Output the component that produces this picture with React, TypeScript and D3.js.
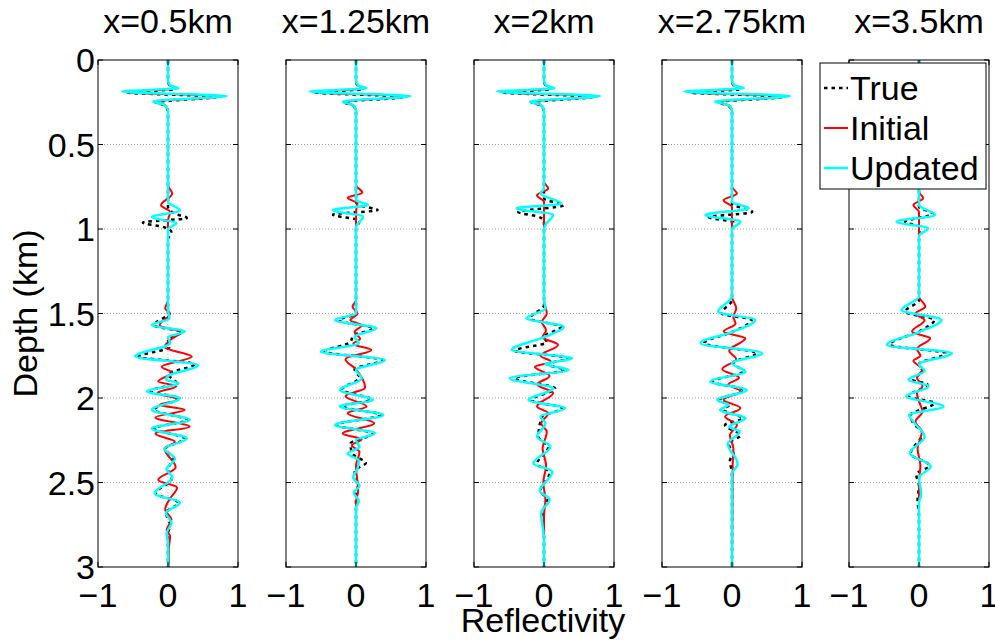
import React from 'react';
import * as d3 from 'd3';

type Pt = [number, number]; // [depth km, reflectivity]

const titles = ['x=0.5km', 'x=1.25km', 'x=2km', 'x=2.75km', 'x=3.5km'];
const depthTicks = [0, 0.5, 1, 1.5, 2, 2.5, 3];
const depthTickLabels = ['0', '0.5', '1', '1.5', '2', '2.5', '3'];
const gridDepths = [0.5, 1, 1.5, 2, 2.5];
const reflTicks = [-1, 0, 1];
const reflTickLabels = ['\u22121', '0', '1'];
const seriesNames = ['True', 'Initial', 'Updated'];
const seriesColors = ['#000000', '#ff0000', '#00ffff'];

// Panel 1 (x=0.5km)
const true1: Pt[] = [[0,0],[0.12,0],[0.155,0.03],[0.172,0.12],[0.192,-0.58],[0.218,0.7],[0.25,-0.18],[0.27,-0.04],[0.31,0],[0.87,0],[0.91,0.1],[0.935,0.27],[0.962,-0.36],[0.99,-0.05],[1.02,0.05],[1.06,0],[1.5,0],[1.57,-0.2],[1.61,0.2],[1.65,0],[1.7,0.02],[1.755,-0.42],[1.8,0.38],[1.86,0],[1.91,0.12],[1.96,-0.25],[2.0,0.15],[2.07,-0.2],[2.13,0.28],[2.18,-0.2],[2.24,0.24],[2.3,-0.04],[2.36,0.08],[2.42,0],[2.48,0.05],[2.565,-0.18],[2.62,0.15],[2.68,-0.03],[2.75,0.03],[2.82,-0.01],[2.86,0],[3,0]];
const init1: Pt[] = [[0,0],[0.12,0],[0.15,0.02],[0.168,0.13],[0.19,-0.6],[0.215,0.74],[0.247,-0.2],[0.267,-0.05],[0.3,0],[0.74,0],[0.79,0.06],[0.86,-0.1],[0.9,0.03],[0.95,0],[1.42,0],[1.47,-0.04],[1.5,0.03],[1.57,-0.12],[1.61,0.18],[1.66,0.02],[1.7,-0.05],[1.755,0.34],[1.815,-0.09],[1.85,0.05],[1.903,-0.14],[1.93,0.12],[1.97,-0.15],[2.01,0.15],[2.04,-0.12],[2.07,0.24],[2.115,-0.18],[2.17,0.31],[2.21,-0.18],[2.26,0.1],[2.3,-0.05],[2.41,0.11],[2.485,-0.14],[2.53,0.13],[2.6,0.02],[2.66,-0.04],[2.72,0.05],[2.78,-0.02],[2.82,0.03],[2.9,0.01],[3,0.01]];
const upd1: Pt[] = [[0,0],[0.12,0],[0.15,0.03],[0.167,0.15],[0.187,-0.66],[0.213,0.84],[0.245,-0.21],[0.265,-0.06],[0.3,0],[0.84,0],[0.89,0.17],[0.93,-0.23],[0.965,0.12],[1.0,0],[1.48,0],[1.53,0.02],[1.568,-0.23],[1.607,0.24],[1.64,0],[1.675,0.03],[1.755,-0.47],[1.805,0.43],[1.87,0],[1.89,-0.03],[1.913,0.15],[1.962,-0.3],[2.0,0.17],[2.07,-0.23],[2.13,0.31],[2.18,-0.23],[2.24,0.27],[2.3,-0.05],[2.36,0.1],[2.42,-0.02],[2.47,0.06],[2.565,-0.19],[2.62,0.17],[2.68,-0.03],[2.74,0.05],[2.8,-0.02],[2.86,0],[3,0]];

// Panel 2 (x=1.25km)
const true2: Pt[] = [[0,0],[0.12,0],[0.155,0.03],[0.172,0.12],[0.192,-0.58],[0.218,0.68],[0.25,-0.17],[0.27,-0.04],[0.31,0],[0.84,0],[0.86,0.05],[0.888,0.31],[0.915,-0.33],[0.95,0.05],[1.0,0],[1.5,0],[1.54,-0.25],[1.588,0.25],[1.63,-0.04],[1.67,-0.08],[1.726,-0.45],[1.775,0.38],[1.83,-0.02],[1.88,0.05],[1.95,-0.2],[2.01,0.22],[2.05,-0.2],[2.1,0.35],[2.16,-0.28],[2.21,0.24],[2.27,-0.08],[2.33,-0.05],[2.385,0.14],[2.43,-0.02],[2.47,0],[2.52,0.03],[2.56,0],[3,0]];
const init2: Pt[] = [[0,0],[0.12,0],[0.15,0.02],[0.168,0.13],[0.19,-0.6],[0.215,0.7],[0.248,-0.18],[0.268,-0.04],[0.3,0],[0.74,0],[0.785,0.09],[0.815,-0.12],[0.85,0.02],[0.9,0],[1.42,0],[1.46,-0.05],[1.5,0.02],[1.54,-0.08],[1.57,0.08],[1.61,-0.02],[1.65,0.06],[1.68,-0.04],[1.716,0.22],[1.77,-0.15],[1.83,0],[1.94,0.13],[1.99,-0.15],[2.05,0.15],[2.09,-0.12],[2.15,0.26],[2.21,-0.19],[2.245,0.08],[2.28,-0.06],[2.32,0.05],[2.4,0],[2.55,0.03],[2.62,0],[3,0]];
const upd2: Pt[] = [[0,0],[0.12,0],[0.15,0.03],[0.167,0.15],[0.187,-0.66],[0.213,0.78],[0.247,-0.19],[0.265,-0.05],[0.3,0],[0.83,0],[0.858,0.17],[0.888,-0.33],[0.927,0.1],[0.99,0],[1.5,0],[1.538,-0.3],[1.588,0.29],[1.637,-0.02],[1.676,0.04],[1.726,-0.5],[1.775,0.41],[1.834,0],[1.884,0.08],[1.953,-0.23],[2.012,0.24],[2.05,-0.23],[2.1,0.39],[2.16,-0.3],[2.209,0.27],[2.25,0],[2.29,0.05],[2.33,-0.12],[2.37,0.04],[2.42,0.02],[2.47,-0.04],[2.52,0.05],[2.56,-0.03],[2.61,0.04],[2.65,0],[3,0]];

// Panel 3 (x=2km)
const true3: Pt[] = [[0,0],[0.12,0],[0.155,0.03],[0.172,0.12],[0.192,-0.58],[0.218,0.7],[0.25,-0.18],[0.27,-0.04],[0.31,0],[0.82,0],[0.86,0.28],[0.9,-0.37],[0.925,-0.1],[0.95,0],[1.45,0],[1.53,-0.2],[1.578,0.24],[1.64,0],[1.67,0.04],[1.72,-0.42],[1.765,0.35],[1.8,0.04],[1.834,0.3],[1.883,-0.42],[1.943,0.16],[2.012,-0.18],[2.061,0.26],[2.11,-0.03],[2.23,-0.08],[2.29,0.06],[2.39,-0.1],[2.44,0.08],[2.55,-0.05],[2.6,0.05],[2.68,-0.02],[2.8,0],[3,0]];
const init3: Pt[] = [[0,0],[0.12,0],[0.15,0.02],[0.168,0.13],[0.19,-0.6],[0.215,0.72],[0.248,-0.18],[0.268,-0.04],[0.3,0],[0.72,0],[0.76,0.06],[0.8,-0.1],[0.84,0],[1.42,0],[1.5,0.04],[1.55,-0.03],[1.6,0.03],[1.64,-0.02],[1.686,0.2],[1.75,-0.05],[1.785,0.1],[1.815,-0.13],[1.87,0.08],[1.92,-0.1],[1.97,0.13],[2.05,-0.1],[2.09,0.06],[2.15,-0.04],[2.2,0.04],[2.3,-0.02],[2.4,0.03],[2.5,-0.01],[2.6,0.02],[2.7,0],[3,0]];
const upd3: Pt[] = [[0,0],[0.12,0],[0.15,0.03],[0.167,0.15],[0.187,-0.67],[0.213,0.8],[0.247,-0.2],[0.265,-0.05],[0.3,0],[0.76,0],[0.79,-0.05],[0.85,0.25],[0.877,-0.39],[0.917,0.13],[0.97,0.03],[1.0,0],[1.42,0],[1.47,0.02],[1.528,-0.25],[1.578,0.28],[1.64,0],[1.716,-0.46],[1.765,0.4],[1.8,0.02],[1.834,0.35],[1.883,-0.49],[1.943,0.13],[2.012,-0.22],[2.061,0.3],[2.11,-0.05],[2.15,0.02],[2.229,-0.1],[2.288,0.09],[2.387,-0.15],[2.436,0.12],[2.55,-0.06],[2.6,0.08],[2.68,-0.04],[2.84,0],[3,0]];

// Panel 4 (x=2.75km)
const true4: Pt[] = [[0,0],[0.12,0],[0.155,0.03],[0.172,0.14],[0.192,-0.6],[0.218,0.72],[0.25,-0.2],[0.27,-0.05],[0.31,0],[0.85,0],[0.9,0.29],[0.93,-0.33],[0.96,0.02],[1.0,0],[1.42,0],[1.5,-0.15],[1.538,0.28],[1.61,0],[1.676,-0.4],[1.735,0.36],[1.79,0.02],[1.844,0.15],[1.903,-0.28],[1.953,0.18],[2.012,-0.18],[2.04,-0.04],[2.07,-0.12],[2.12,0.15],[2.16,-0.1],[2.22,0.12],[2.27,-0.05],[2.33,0.02],[2.37,-0.03],[2.45,0],[3,0]];
const init4: Pt[] = [[0,0],[0.12,0],[0.15,0.02],[0.168,0.14],[0.19,-0.62],[0.215,0.75],[0.248,-0.2],[0.268,-0.05],[0.3,0],[0.75,0],[0.79,0.07],[0.83,-0.12],[0.87,0],[1.4,0],[1.47,0.06],[1.52,0.02],[1.56,0.05],[1.607,-0.12],[1.647,0.19],[1.72,-0.04],[1.77,0.06],[1.83,-0.14],[1.88,0.1],[1.92,-0.05],[1.96,0.12],[2.01,-0.12],[2.06,0.12],[2.11,-0.1],[2.16,0.07],[2.22,-0.03],[2.3,0.02],[2.4,0.01],[3,0]];
const upd4: Pt[] = [[0,0],[0.12,0],[0.15,0.03],[0.167,0.17],[0.187,-0.68],[0.213,0.83],[0.247,-0.24],[0.265,-0.06],[0.3,0],[0.84,0],[0.877,0.24],[0.917,-0.38],[0.957,0.12],[1.0,0],[1.4,0],[1.49,-0.2],[1.538,0.33],[1.61,0],[1.676,-0.45],[1.735,0.43],[1.795,0],[1.844,0.19],[1.903,-0.31],[1.953,0.21],[2.012,-0.21],[2.04,-0.05],[2.07,-0.17],[2.12,0.19],[2.17,-0.04],[2.2,0.11],[2.27,-0.06],[2.39,0.08],[2.45,0],[3,0]];

// Panel 5 (x=3.5km)
const true5: Pt[] = [[0,0],[0.12,0],[0.155,0.03],[0.172,0.12],[0.192,-0.58],[0.218,0.7],[0.25,-0.18],[0.27,-0.04],[0.31,0],[0.87,0],[0.91,0.2],[0.957,-0.2],[0.99,0.02],[1.03,0],[1.42,0],[1.49,-0.2],[1.538,0.22],[1.6,0.03],[1.686,-0.42],[1.735,0.38],[1.8,0],[1.84,0.05],[1.893,-0.08],[1.92,0.12],[1.99,-0.15],[2.03,0.22],[2.1,-0.12],[2.15,-0.08],[2.21,0.05],[2.33,-0.12],[2.4,0.15],[2.45,-0.04],[2.52,0],[2.6,-0.02],[2.7,0],[3,0]];
const init5: Pt[] = [[0,0],[0.12,0],[0.15,0.02],[0.168,0.13],[0.19,-0.6],[0.215,0.72],[0.248,-0.18],[0.268,-0.04],[0.3,0],[0.78,0],[0.818,0.06],[0.858,-0.08],[0.9,0],[1.4,0],[1.46,0.09],[1.5,-0.05],[1.54,0.08],[1.607,-0.1],[1.647,0.16],[1.71,-0.03],[1.75,0.02],[1.78,-0.08],[1.83,0.05],[1.88,-0.03],[1.93,0.05],[1.97,-0.03],[2.02,0],[2.08,0.05],[2.14,-0.05],[2.2,0.04],[2.3,-0.02],[2.4,0.02],[2.5,0],[3,0]];
const upd5: Pt[] = [[0,0],[0.12,0],[0.15,0.03],[0.167,0.15],[0.187,-0.66],[0.213,0.8],[0.247,-0.2],[0.265,-0.05],[0.3,0],[0.86,0],[0.917,0.23],[0.957,-0.32],[0.996,0.13],[1.04,0],[1.4,0],[1.48,-0.25],[1.538,0.32],[1.61,0],[1.686,-0.46],[1.735,0.47],[1.8,0],[1.84,0.08],[1.893,-0.15],[1.93,0.14],[1.99,-0.18],[2.05,0.35],[2.1,-0.14],[2.15,-0.06],[2.23,0.08],[2.327,-0.13],[2.406,0.17],[2.47,0],[2.57,0.03],[2.62,0],[3,0]];

const panelSeries: Pt[][][] = [
  [true1, init1, upd1],
  [true2, init2, upd2],
  [true3, init3, upd3],
  [true4, init4, upd4],
  [true5, init5, upd5],
];

const FONT = '"Liberation Sans", Arial, Helvetica, sans-serif';

export default function App() {
  const W = 995, H = 641;
  const top = 60, plotH = 507, plotW = 140;
  const lefts = [98, 286, 474, 662, 849];
  const fs = 34;
  const y = d3.scaleLinear().domain([0, 3]).range([top, top + plotH]);
  const strokeW = [2.5, 2, 2.5];
  const dashes = ['3.5,4', undefined, undefined];

  return (
    <svg width={W} height={H} style={{ position: 'absolute', left: 0, top: 0, background: '#fff' }} fontFamily={FONT}>
      <rect x={0} y={0} width={W} height={H} fill="#fff" />
      {panelSeries.map((series, pi) => {
        const x0 = lefts[pi];
        const x = d3.scaleLinear().domain([-1, 1]).range([x0, x0 + plotW]);
        const line = d3.line<Pt>().x(d => x(d[1])).y(d => y(d[0])).curve(d3.curveMonotoneY);
        const clipId = `clip${pi}`;
        return (
          <g key={pi}>
            <defs>
              <clipPath id={clipId}>
                <rect x={x0} y={top} width={plotW} height={plotH} />
              </clipPath>
            </defs>
            {gridDepths.map(g => (
              <line key={g} x1={x0} x2={x0 + plotW} y1={y(g)} y2={y(g)} stroke="#a0a0a0" strokeWidth={1} strokeDasharray="1,2" />
            ))}
            <line x1={x(0)} x2={x(0)} y1={top} y2={top + plotH} stroke="#c8c8c8" strokeWidth={1} strokeDasharray="1,2" />
            <g clipPath={`url(#${clipId})`}>
              {series.map((s, si) => (
                <path key={si} d={line(s) || ''} fill="none" stroke={seriesColors[si]} strokeWidth={strokeW[si]}
                  strokeDasharray={dashes[si]} strokeLinejoin="round" />
              ))}
            </g>
            <rect x={x0} y={top} width={plotW} height={plotH} fill="none" stroke="#000" strokeWidth={1} />
            {depthTicks.map(t => (
              <g key={t}>
                <line x1={x0} x2={x0 + 5} y1={y(t)} y2={y(t)} stroke="#000" />
                <line x1={x0 + plotW - 5} x2={x0 + plotW} y1={y(t)} y2={y(t)} stroke="#000" />
              </g>
            ))}
            {reflTicks.map(t => (
              <g key={t}>
                <line x1={x(t)} x2={x(t)} y1={top + plotH} y2={top + plotH - 5} stroke="#000" />
                <line x1={x(t)} x2={x(t)} y1={top} y2={top + 5} stroke="#000" />
              </g>
            ))}
            {reflTicks.map((t, i) => (
              <text key={t} x={x(t)} y={top + plotH + 40} textAnchor="middle" fontSize={fs}>{reflTickLabels[i]}</text>
            ))}
            <text x={x0 + plotW / 2} y={33} textAnchor="middle" fontSize={fs}>{titles[pi]}</text>
          </g>
        );
      })}
      {depthTicks.map((t, i) => (
        <text key={t} x={95} y={y(t)} dy="0.36em" textAnchor="end" fontSize={fs}>{depthTickLabels[i]}</text>
      ))}
      <text transform={`translate(37,${top + plotH / 2}) rotate(-90)`} textAnchor="middle" fontSize={fs}>Depth (km)</text>
      <text x={543} y={632} textAnchor="middle" fontSize={fs}>Reflectivity</text>
      <g>
        <rect x={820} y={63} width={166} height={126} fill="#fff" stroke="#000" strokeWidth={1} />
        {seriesNames.map((n, i) => {
          const cy = 88 + i * 40;
          return (
            <g key={n}>
              <line x1={824} x2={848} y1={cy} y2={cy} stroke={seriesColors[i]} strokeWidth={strokeW[i]} strokeDasharray={dashes[i]} />
              <text x={850} y={cy} dy="0.36em" fontSize={fs}>{n}</text>
            </g>
          );
        })}
      </g>
    </svg>
  );
}
